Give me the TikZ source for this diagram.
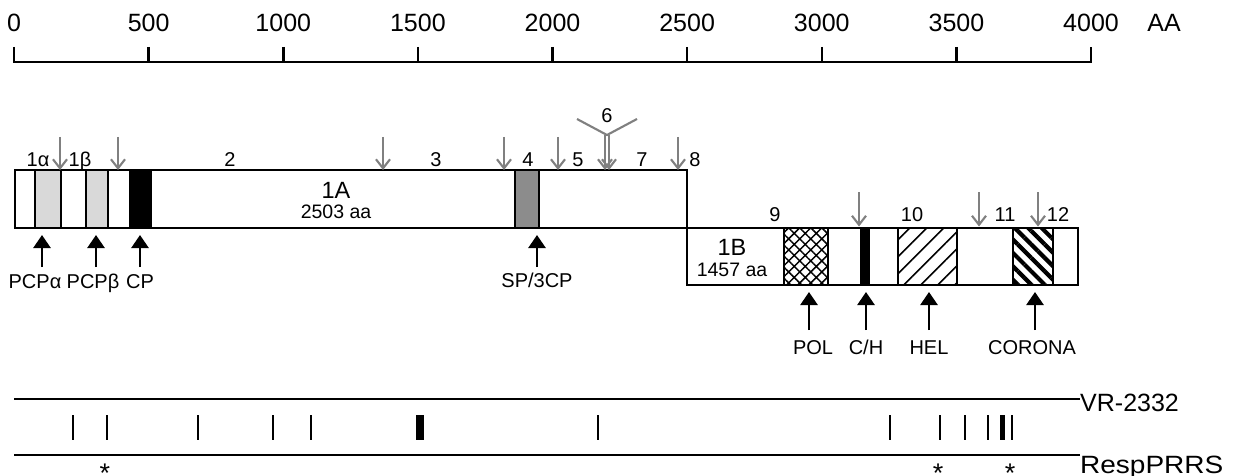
\documentclass[tikz,border=0pt]{standalone}
\usepackage{fontspec}
\setmainfont{Liberation Sans}
\usetikzlibrary{arrows.meta,patterns.meta}
\tikzset{
  scl/.style={anchor=base,inner sep=0pt,font=\fontsize{25}{25}\selectfont},
  reg/.style={anchor=base,inner sep=0pt,font=\fontsize{20}{20}\selectfont},
  big/.style={anchor=base,inner sep=0pt,font=\fontsize{23.5}{23.5}\selectfont},
  aalbl/.style={anchor=base,inner sep=0pt,font=\fontsize{19.5}{19.5}\selectfont},
  prot/.style={anchor=base,inner sep=0pt,font=\fontsize{20}{20}\selectfont},
  strain/.style={anchor=base west,inner sep=0pt,font=\fontsize{25}{25}\selectfont},
  star/.style={anchor=center,inner sep=0pt,font=\fontsize{27}{27}\selectfont},
  boxline/.style={line width=2.6pt},
  divline/.style={line width=2.1pt},
  garrow/.style={draw=black!50,line width=2.1pt,-{Straight Barb[length=9pt,width=14pt]}},
  barrow/.style={draw=black,line width=2.6pt,-{Triangle[length=13pt,width=17pt]}},
}
\newcommand{\starmark}{\raisebox{-0.58em}[0pt][0pt]{*}}
\begin{document}
\begin{tikzpicture}[x=1pt,y=-1pt]
\useasboundingbox (0,0) rectangle (1234,476);
\fill[white] (0,0) rectangle (1234,476);

% ---- scale ----
\draw[line width=2.5pt] (14,47) -- (14,62) -- (1091,62) -- (1091,47);
\foreach \v in {500,1000,...,3500}{
  \pgfmathsetmacro{\xx}{14+\v*0.26925}
  \draw[line width=2.5pt] (\xx,47) -- (\xx,62);
}
\foreach \v [count=\i] in {0,500,1000,1500,2000,2500,3000,3500,4000}{
  \pgfmathsetmacro{\xx}{14+\v*0.26925}
  \node[scl] (sc\i) at (\xx,32) {\v};
}
\node[scl] (aa) at (1164,32) {AA};

% ---- 1A domains ----
\fill[black!15] (35,170) rectangle (61,228);
\fill[black!15] (86,170) rectangle (108,228);
\fill[black] (130,170) rectangle (151,228);
\fill[black!45] (515,170) rectangle (539,228);
\foreach \x in {35,61,86,108,130,151,515,539}
  \draw[divline] (\x,170) -- (\x,228);

% ---- 1B domains ----
\path[pattern={Hatch[angle=45,distance=7.8pt,line width=1.5pt]}] (784,228) rectangle (828,285);
\fill[black] (860,228) rectangle (870,285);
\path[pattern={Lines[angle=45,distance=12pt,line width=1.6pt]}] (898,228) rectangle (957,285);
\path[pattern={Lines[angle=-45,distance=9.5pt,line width=4.2pt]}] (1013,228) rectangle (1053,285);
\foreach \x in {784,828,898,957,1013,1053}
  \draw[divline] (\x,228) -- (\x,285);

% ---- boxes ----
\draw[boxline] (15,170) rectangle (687,228);
\draw[boxline] (687,228) rectangle (1078,285);

% ---- box labels ----
\node[big] (n1A) at (336,198) {1A};
\node[aalbl] (n1Aaa) at (336,218) {2503 aa};
\node[big] (n1B) at (732,255) {1B};
\node[aalbl] (n1Baa) at (732,276.5) {1457 aa};

% ---- region numbers ----
\node[reg] (r1a) at (38,166) {1α};
\node[reg] (r1b) at (80,166) {1β};
\node[reg] (r2) at (230,166) {2};
\node[reg] (r3) at (436,166) {3};
\node[reg] (r4) at (528,166) {4};
\node[reg] (r5) at (578,166) {5};
\node[reg] (r6) at (607,123) {6};
\node[reg] (r7) at (642,166) {7};
\node[reg] (r8) at (695,166) {8};
\node[reg] (r9) at (775,221) {9};
\node[reg] (r10) at (912,221) {10};
\node[reg] (r11) at (1005,221) {11};
\node[reg] (r12) at (1058,221) {12};

% ---- gray cleavage arrows ----
\foreach \x [count=\i] in {60,118,383,504,558,678}{
  \coordinate (gt\i) at (\x,137);
  \coordinate (gb\i) at (\x,170);
  \draw[garrow] (gt\i) -- (gb\i);
}
\foreach \x [count=\i] in {859,979,1038}{
  \coordinate (ht\i) at (\x,192);
  \coordinate (hb\i) at (\x,226.5);
  \draw[garrow] (ht\i) -- (hb\i);
}
% double arrow at 6
\coordinate (yl) at (577,119);
\coordinate (yr) at (637,119);
\coordinate (yc) at (607,135);
\coordinate (ydl) at (605,135);
\coordinate (ydr) at (609,135);
\coordinate (yel) at (605,170);
\coordinate (yer) at (609,170);
\draw[draw=black!50,line width=2.1pt] (yl) -- (yc) -- (yr);
\draw[garrow] (ydl) -- (yel);
\draw[garrow] (ydr) -- (yer);

% ---- black arrows and protein labels ----
\node[prot] (pa) at (35,288) {PCPα};
\node[prot] (pb) at (93,288) {PCPβ};
\node[prot] (cp) at (140,288) {CP};
\node[prot] (sp) at (537,287) {SP/3CP};
\node[prot] (pol) at (813,354) {POL};
\node[prot] (ch) at (866,354) {C/H};
\node[prot] (hel) at (929,354) {HEL};
\node[prot] (cor) at (1032,354) {CORONA};
\foreach \x [count=\i] in {42,96,140,537}{
  \coordinate (ba\i) at (\x,267);
  \coordinate (bt\i) at (\x,235);
  \draw[barrow] (ba\i) -- (bt\i);
}
\foreach \x [count=\i] in {809,866,929,1035}{
  \coordinate (ca\i) at (\x,330);
  \coordinate (ct\i) at (\x,292);
  \draw[barrow] (ca\i) -- (ct\i);
}

% ---- strain comparison ----
\node[strain] (vr) at (1080,411) {VR-2332};
\node[strain] (resp) at (1080,473) {\scalebox{1.12}[1]{RespPRRS}};
\draw[line width=2.4pt] (14,399) -- (vr.west |- 14,399);
\draw[line width=2.4pt] (14,455) -- (resp.west |- 14,455);
\foreach \x in {73,107,198,273,311,598,890,940,965,988,1012}
  \draw[line width=2.2pt] (\x,415) -- (\x,440);
\fill[black] (416,415) rectangle (424,440);
\fill[black] (999.5,415) rectangle (1004.5,440);
\node[star] (st1) at (105,467) {\starmark};
\node[star] (st2) at (938,467) {\starmark};
\node[star] (st3) at (1010,467) {\starmark};
\end{tikzpicture}
\end{document}
